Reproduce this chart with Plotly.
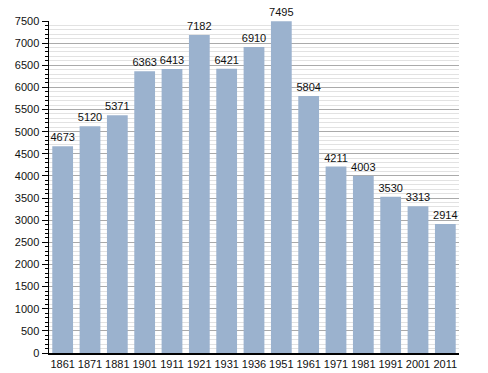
import plotly.graph_objects as go

years = ["1861", "1871", "1881", "1901", "1911", "1921", "1931", "1936",
         "1951", "1961", "1971", "1981", "1991", "2001", "2011"]
population = [4673, 5120, 5371, 6363, 6413, 7182, 6421, 6910,
              7495, 5804, 4211, 4003, 3530, 3313, 2914]

fig = go.Figure(go.Bar(
    x=years, y=population,
    marker=dict(color="#9bb2ce", line=dict(width=0)),
    text=[str(v) for v in population],
    textposition="outside",
    constraintext="none",
    textfont=dict(family="Liberation Sans, Arial", size=11, color="#111"),
    cliponaxis=False,
    hoverinfo="skip",
))

fig.update_layout(
    width=488, height=373,
    margin=dict(l=49, r=29, t=21, b=20, autoexpand=False),
    plot_bgcolor="white", paper_bgcolor="white",
    bargap=0.24,
    showlegend=False,
    font=dict(family="Liberation Sans, Arial", size=11, color="#111"),
    uniformtext=dict(mode=False),
)
fig.update_xaxes(
    type="category", automargin=False,
    showline=True, linecolor="black", linewidth=1.5,
    ticks="", showgrid=False,
    tickfont=dict(size=11),
)
fig.update_yaxes(
    range=[0, 7500], dtick=500, tick0=0, automargin=False,
    showline=True, linecolor="black", linewidth=1.5,
    ticks="outside", ticklen=6, tickcolor="black",
    showgrid=True, gridcolor="#aaaaaa", gridwidth=1,
    zeroline=False,
    tickfont=dict(size=11),
    minor=dict(dtick=100, ticks="outside", ticklen=3, tickcolor="black",
               showgrid=True, gridcolor="#e2e2e2", gridwidth=1),
)

fig.write_html("out.html",
               config={"displayModeBar": False, "staticPlot": True},
               post_script="document.body.style.margin='0';document.body.style.overflow='hidden';")
